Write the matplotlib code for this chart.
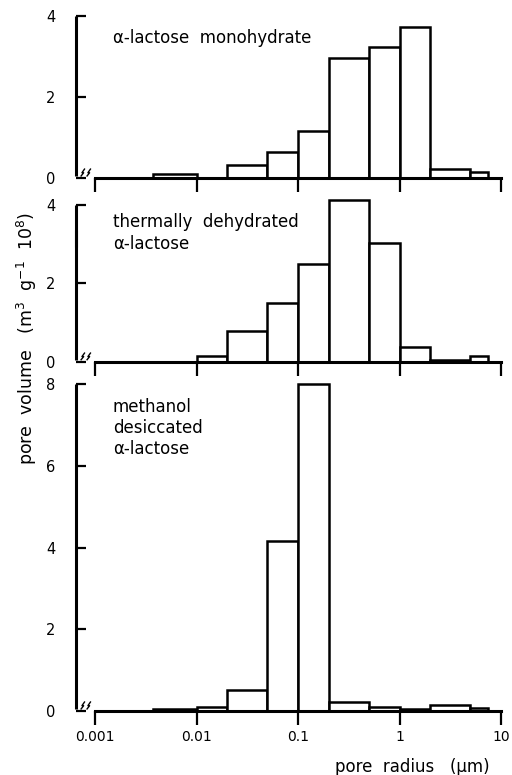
import matplotlib.pyplot as plt
import numpy as np
from matplotlib.transforms import blended_transform_factory

# bin edges of pore radius (um), shared by all three panels
edges = [0.0037, 0.01, 0.02, 0.05, 0.1, 0.2, 0.5, 1, 2, 5, 7.5]

# pore volume (m3 g-1 10^8) per bin
monohydrate = [0.1, 0.0, 0.31, 0.64, 1.16, 2.96, 3.23, 3.74, 0.23, 0.14]
thermal = [0.0, 0.15, 0.78, 1.51, 2.49, 4.14, 3.04, 0.38, 0.05, 0.15]
methanol = [0.06, 0.1, 0.51, 4.15, 8.0, 0.22, 0.1, 0.04, 0.14, 0.07]

labels = ['\u03b1-lactose  monohydrate',
          'thermally  dehydrated\n\u03b1-lactose',
          'methanol\ndesiccated\n\u03b1-lactose']
yticks = [[0, 2, 4], [0, 2, 4], [0, 2, 4, 6, 8]]
xticks = [0.001, 0.01, 0.1, 1, 10]
xticklabels = ['0.001', '0.01', '0.1', '1', '10']

plt.rcParams['font.family'] = 'DejaVu Sans'
fig = plt.figure(figsize=(5.12, 7.75), dpi=100)

W, H = 512.0, 775.0
# pixel boxes: (y of zero, y of top tick)
boxes = [(178, 16), (361.7, 205), (711, 384)]
tops = [4, 4, 8]
# left spine pieces per panel (data units)
spine_parts = [[(0.05, 4)], [(0.05, 3.36), (2.94, 4)], [(0.05, 8)]]
text_center = [38, 233, 428]

left_px, right_px = 76, 501
xmin = 10 ** (-3 - 19 / 101.5)

lefts = np.array(edges[:-1])
widths = np.diff(edges)

for i, data in enumerate([monohydrate, thermal, methanol]):
    y0, y1 = boxes[i]
    ax = fig.add_axes([left_px / W, (H - y0) / H, (right_px - left_px) / W, (y0 - y1) / H])
    ax.set_xscale('log')
    ax.set_xlim(xmin, 10)
    ax.set_ylim(0, tops[i])

    ax.bar(lefts, data, width=widths, align='edge', color='white',
           edgecolor='black', linewidth=1.8, clip_on=False, zorder=3)

    for s in ['top', 'right', 'left']:
        ax.spines[s].set_visible(False)
    ax.spines['bottom'].set_bounds(0.001, 10)
    ax.spines['bottom'].set_linewidth(2.2)
    ax.spines['bottom'].set_zorder(4)

    tr = blended_transform_factory(ax.transAxes, ax.transData)
    for a, b in spine_parts[i]:
        ax.plot([0, 0], [a, b], color='black', lw=2.2, transform=tr,
                clip_on=False, solid_capstyle='butt')
    # axis break marks
    for bx in [0.012, 0.026]:
        ax.plot([bx, bx + 0.006, bx + 0.002, bx + 0.008],
                [0.05, 0.13, 0.13, 0.22], color='black', lw=1.0,
                transform=tr, clip_on=False)

    ax.set_xticks(xticks)
    ax.xaxis.set_minor_locator(plt.NullLocator())
    ax.tick_params(axis='x', direction='out', length=10, width=1.6, pad=4,
                   labelsize=10)
    if i == 2:
        ax.set_xticklabels(xticklabels)
    else:
        ax.set_xticklabels([])

    ax.set_yticks(yticks[i])
    ax.set_yticklabels([str(t) for t in yticks[i]])
    ax.tick_params(axis='y', direction='in', length=7, width=1.6, pad=15,
                   labelsize=10.5)

    fig.text(113 / W, (H - text_center[i]) / H, labels[i], fontsize=12,
             va='center', ha='left', linespacing=1.25)
    ax.patch.set_visible(False)

fig.text(27 / W, (H - 338) / H, 'pore  volume   (m$^3$  g$^{-1}$  10$^8$)',
         rotation=90, ha='center', va='center', fontsize=12.5)
fig.text(490 / W, (H - 767) / H, 'pore  radius   (\u03bcm)', ha='right',
         va='center', fontsize=12)

fig.savefig('out.png', dpi=100)
